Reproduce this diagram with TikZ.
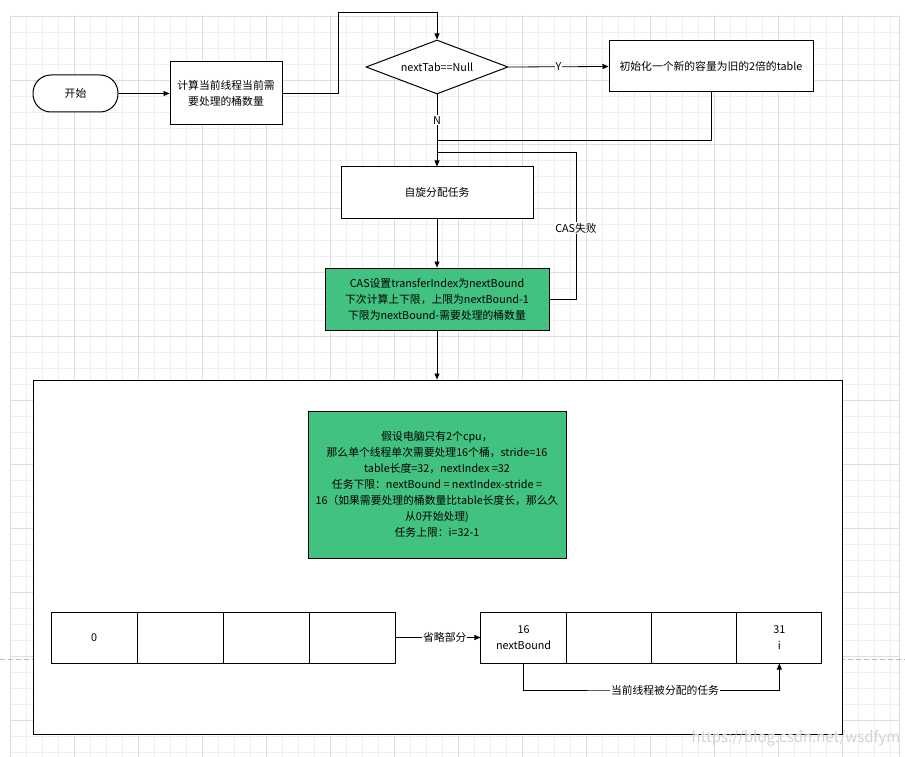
\documentclass[tikz,border=0pt]{standalone}
\usepackage{fontspec}
\setmainfont{Noto Sans CJK SC}
\usetikzlibrary{shapes.geometric,arrows.meta}
\definecolor{boxgreen}{RGB}{66,194,128}
\definecolor{gridminor}{RGB}{238,238,238}
\definecolor{gridmajor}{RGB}{222,222,222}
\begin{document}
\begin{tikzpicture}[x=1pt,y=-1pt,font=\fontsize{10.8}{16}\selectfont,
  box/.style={draw,fill=white,align=center,line width=1pt,inner sep=2pt},
  greenbox/.style={box,fill=boxgreen},
  cell/.style={draw,fill=white,minimum height=51pt,align=center,line width=1pt},
  lbl/.style={fill=white,inner sep=1pt},
  arr/.style={-{Triangle[length=6pt,width=5pt]},line width=0.8pt},
  link/.style={line width=0.8pt}]
  \useasboundingbox (0,0) rectangle (905,757);
  % background grid
  \begin{scope}
    \clip (10,16) rectangle (899,757);
    \foreach \k in {0,...,56} \draw[gridminor] ({10+16*\k},16) -- ({10+16*\k},757);
    \foreach \k in {0,...,46} \draw[gridminor] (10,{16+16*\k}) -- (899,{16+16*\k});
    \foreach \k in {0,...,14} \draw[gridmajor] ({10+64*\k},16) -- ({10+64*\k},757);
    \foreach \k in {0,...,11} \draw[gridmajor] (10,{16+64*\k}) -- (899,{16+64*\k});
  \end{scope}
  \draw[gridmajor] (899,16) -- (899,757) (10,16) -- (899,16);
  \draw[gray!55,dash pattern=on 5pt off 3pt] (0,659) -- (905,659);

  % upper flow
  \node[box,rounded corners=18pt,minimum width=85pt,minimum height=37pt] (start) at (75.5,93.5) {开始};
  \node[box,minimum width=112pt,minimum height=63pt] (calc) at (226,93.5) {计算当前线程当前需\\要处理的桶数量};
  \node[box,diamond,aspect=2.6,inner sep=0pt,minimum width=142pt,minimum height=54pt] (check) at (437,67) {nextTab==Null};
  \node[box,minimum width=204pt,minimum height=51pt] (init) at (711,66.5) {初始化一个新的容量为旧的2倍的table};
  \node[box,minimum width=192pt,minimum height=51pt] (spin) at (437,192.5) {自旋分配任务};
  \node[greenbox,minimum width=224pt,minimum height=62pt] (cas) at (437,299) {CAS设置transferIndex为nextBound\\下次计算上下限，上限为nextBound-1\\下限为nextBound-需要处理的桶数量};

  \coordinate (top) at (338,12);
  \coordinate (merge) at (437,140);
  \coordinate (retry) at (576,152);
  \coordinate (back) at (437,152);
  \draw[arr] (start) -- (calc);
  \draw[arr] (calc.east) -| (top) -| (check.north);
  \draw[arr] (check.east) -- node[lbl]{Y} (init.west);
  \draw[link] (init.south) |- (merge);
  \draw[arr] (check.south) -- node[lbl,pos=0.36]{N} (spin.north);
  \draw[link] (cas.east) -| node[lbl,pos=0.74]{CAS失败} (retry) -- (back);
  \draw[arr] (spin) -- (cas);

  % lower frame
  \node[draw,fill=white,line width=1pt,minimum width=809pt,minimum height=354pt] (frame) at (437.5,557) {};
  \draw[arr] (cas.south) -- (cas.south |- frame.north);
  \node[greenbox,minimum width=258pt,minimum height=147pt] (info) at (437,484.5) {假设电脑只有2个cpu，\\那么单个线程单次需要处理16个桶，stride=16\\table长度=32，nextIndex =32\\任务下限：nextBound = nextIndex-stride =\\16（如果需要处理的桶数量比table长度长，那么久\\从0开始处理)\\任务上限：i=32-1};

  \foreach \i/\t in {1/0,2/,3/,4/}
    \node[cell,minimum width=86pt] (l\i) at ({94+86*(\i-1)},637.5) {\t};
  \foreach \i/\t in {1/{16\\nextBound},2/,3/,4/{31\\i}}
    \node[cell,minimum width=85.25pt] (r\i) at ({523.6+85.25*(\i-1)},637.5) {\t};

  \coordinate (low) at (650,690);
  \draw[arr] (l4.east) -- node[lbl,pos=0.58]{省略部分} (r1.west);
  \draw[arr] (r1.south) |- (low) -| (r4.south);
  \node[lbl] (task) at (665,690) {当前线程被分配的任务};

  \node[text=gray!35,font=\fontsize{15}{15}\selectfont] (mark) at (796,738) {https://blog.csdn.net/wsdfym};
\end{tikzpicture}
\end{document}
